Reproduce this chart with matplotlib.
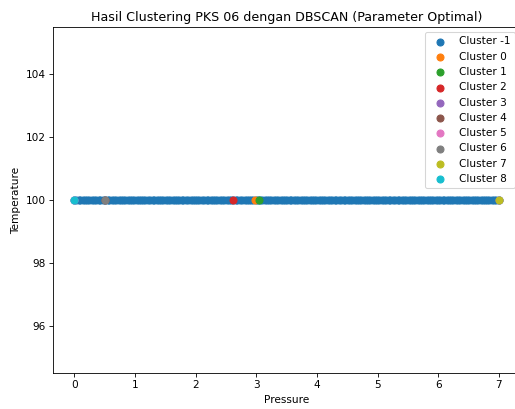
import numpy as np
import matplotlib.pyplot as plt

# pressure readings per DBSCAN cluster (temperature is constant at 100)
noise_pressure = [0.0, 0.03, 0.07, 0.1, 0.14, 0.18, 0.21, 0.25, 0.29, 0.32, 0.36, 0.4,
                  0.43, 0.47, 0.51, 0.55, 0.58, 0.62, 0.66, 0.69, 0.73, 0.77, 0.8, 0.84,
                  0.88, 0.92, 0.95, 0.99, 1.03, 1.06, 1.1, 1.14, 1.17, 1.21, 1.25, 1.29,
                  1.32, 1.36, 1.4, 1.43, 1.47, 1.51, 1.55, 1.58, 1.62, 1.66, 1.69, 1.73,
                  1.77, 1.8, 1.84, 1.88, 1.92, 1.95, 1.99, 2.03, 2.06, 2.1, 2.14, 2.18,
                  2.21, 2.25, 2.29, 2.32, 2.36, 2.4, 2.43, 2.47, 2.51, 2.55, 2.58, 2.62,
                  2.66, 2.69, 2.73, 2.77, 2.81, 2.84, 2.88, 2.92, 2.95, 2.99, 3.03, 3.06,
                  3.1, 3.14, 3.18, 3.21, 3.25, 3.29, 3.32, 3.36, 3.4, 3.44, 3.47, 3.51,
                  3.55, 3.58, 3.62, 3.66, 3.69, 3.73, 3.77, 3.81, 3.84, 3.88, 3.92, 3.95,
                  3.99, 4.03, 4.07, 4.1, 4.14, 4.18, 4.21, 4.25, 4.29, 4.32, 4.36, 4.4,
                  4.44, 4.47, 4.51, 4.55, 4.58, 4.62, 4.66, 4.7, 4.73, 4.77, 4.81, 4.84,
                  4.88, 4.92, 4.95, 4.99, 5.03, 5.07, 5.1, 5.14, 5.18, 5.21, 5.25, 5.29,
                  5.33, 5.36, 5.4, 5.44, 5.47, 5.51, 5.55, 5.58, 5.62, 5.66, 5.7, 5.73,
                  5.77, 5.81, 5.84, 5.88, 5.92, 5.96, 5.99, 6.03, 6.07, 6.1, 6.14, 6.18,
                  6.21, 6.25, 6.29, 6.33, 6.36, 6.4, 6.44, 6.47, 6.51, 6.55, 6.59, 6.62,
                  6.66, 6.7, 6.73, 6.77, 6.81, 6.84, 6.88, 6.92, 6.96, 7.0]
cluster_pressure = {
    0: [2.98],
    1: [3.04],
    2: [2.62],
    3: [7.0],
    4: [0.5],
    5: [0.0],
    6: [0.51],
    7: [7.0],
    8: [0.0],
}
temperature = 100

fig = plt.figure(figsize=(515 / 76, 409 / 76), dpi=76)
ax = fig.add_axes([0.103, 0.088, 0.907, 0.846])

ax.scatter(noise_pressure, [temperature] * len(noise_pressure), s=44, label='Cluster -1')
for c, p in cluster_pressure.items():
    ax.scatter(p, [temperature] * len(p), s=44, label=f'Cluster {c}')

ax.set_title('Hasil Clustering PKS 06 dengan DBSCAN (Parameter Optimal)')
ax.set_xlabel('Pressure')
ax.set_ylabel('Temperature')
ax.legend(loc='upper right')

fig.savefig('out.png', dpi=76)
